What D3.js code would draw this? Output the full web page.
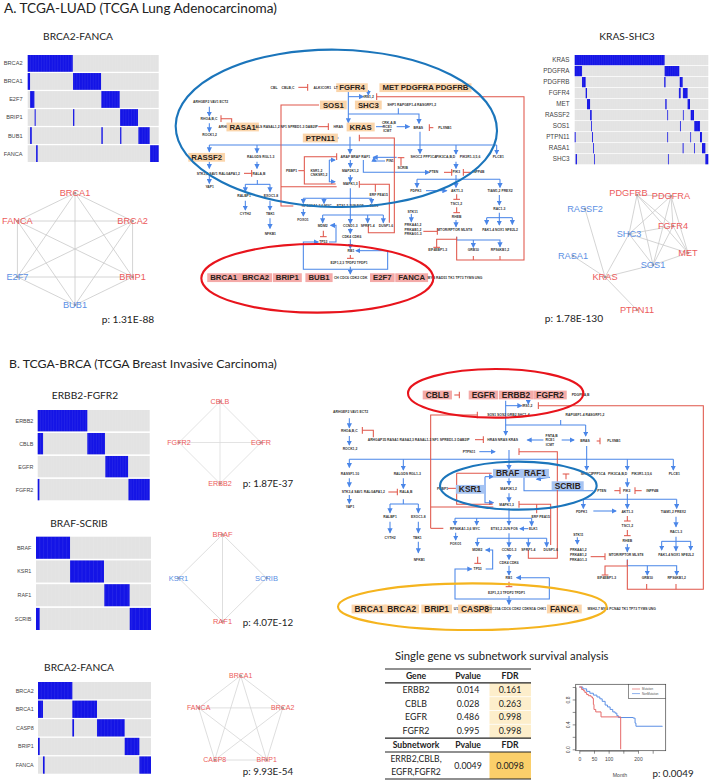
<!DOCTYPE html>
<html>
<head>
<meta charset="utf-8">
<title>Pathway subnetworks</title>
<script src="https://cdnjs.cloudflare.com/ajax/libs/d3/7.8.5/d3.min.js"></script>
<style>
body { margin: 0; background: #fff; }
svg { display: block; }
text { font-family: "Liberation Sans", Arial, sans-serif; }
.cal { font-family: Lato, "Open Sans", sans-serif; fill: #222; }
</style>
</head>
<body>
<svg id="fig" width="712" height="781"></svg>
<script>
// oncoprints: mutated sample ranges per gene, in percent of samples
var luadBrcaGenes = ["BRCA2", "BRCA1", "E2F7", "BRIP1", "BUB1", "FANCA"];
var luadBrcaMut = [
    [[0, 34.4]],
    [[0, 1.8], [34.6, 56]],
    [[1.8, 5.1], [56.2, 70.2]],
    [[5.3, 6.1], [34.6, 35.6], [70.5, 84.2]],
    [[1.8, 3.1], [56.2, 57.3], [70.5, 71.5], [84.5, 93.1]],
    [[6.4, 7.6], [93.4, 100]]
];
var luadKrasGenes = ["KRAS", "PDGFRA", "PDGFRB", "FGFR4", "MET", "RASSF2", "SOS1", "PTPN11", "RASA1", "SHC3"];
var luadKrasMut = [
    [[0, 67.3]],
    [[0, 5.5], [67.3, 78.3]],
    [[5.5, 8.2], [67, 68], [78.6, 80.8]],
    [[8.2, 9.2], [78, 79.3], [81, 84.5]],
    [[9.2, 11.5], [67.8, 68.8], [84.5, 86.3]],
    [[11.5, 12.7], [69.3, 69.8], [81, 81.5], [86.8, 89.3]],
    [[12.2, 12.7], [78.8, 79.3], [89.5, 93.8]],
    [[0, 0.7], [13, 13.7], [69.3, 69.8], [86.5, 87], [93.8, 95.3]],
    [[13.7, 14.2], [80.8, 81.5], [89.3, 89.8], [95.3, 97.8]],
    [[0.7, 1.7], [14.5, 15], [69.8, 70.3], [97.8, 100]]
];
var brcaErbbGenes = ["ERBB2", "CBLB", "EGFR", "FGFR2"];
var brcaErbbMut = [[[0, 44.3]], [[0, 4.8], [44.3, 60.1]], [[60.4, 80.7]], [[0, 1.5], [81, 100]]];
var brcaBrafGenes = ["BRAF", "KSR1", "RAF1", "SCRIB"];
var brcaBrafMut = [[[0, 29.6]], [[29.6, 59.1]], [[59.4, 81.4]], [[0, 3.2], [81.5, 100]]];
var brcaFancaGenes = ["BRCA2", "BRCA1", "CASP8", "BRIP1", "FANCA"];
var brcaFancaMut = [
    [[0, 30.4]],
    [[0, 4.4], [30.4, 52.2]],
    [[30.4, 31.9], [52.2, 76.7]],
    [[0, 1.5], [76.7, 89.7]],
    [[4.4, 5.9], [89.7, 100]]
];

// table
var tableGenes = ["ERBB2", "CBLB", "EGFR", "FGFR2"];
var tablePvalues = ["0.014", "0.028", "0.486", "0.995"];
var tableFdr = ["0.161", "0.263", "0.998", "0.998"];

// survival curves: month, surviving fraction
var survMutation = [[0, 1], [8, 0.96], [14, 0.94], [19, 0.91], [25, 0.88], [31, 0.86], [40, 0.84], [45, 0.82], [48, 0.72], [50, 0.64], [56, 0.6], [74, 0.52], [141, 0], [141, 0]];
var survNoMutation = [[0, 1], [12, 0.97], [25, 0.93], [36, 0.9], [48, 0.87], [60, 0.84], [70, 0.81], [78, 0.77], [88, 0.71], [96, 0.68], [105, 0.64], [114, 0.6], [122, 0.58], [128, 0.54], [133, 0.51], [184, 0.5], [190, 0.42], [193, 0.37], [283, 0.365]];

var neutralColor = "#c9c9c9", redText = "#ec5b5b", blueText = "#5b8fe4";
var svg = d3.select("#fig");

svg.append("defs").append("marker")
    .attr("id", "arrow").attr("viewBox", "0 0 6 6").attr("refX", 5).attr("refY", 3)
    .attr("markerWidth", 5.2).attr("markerHeight", 5.2).attr("markerUnits", "userSpaceOnUse").attr("orient", "auto")
    .append("path").attr("d", "M0,0L6,3L0,6Z").attr("fill", "#4a86e8");

function calText(s, x, y, size, anchor, weight) {
    return svg.append("text").attr("class", "cal")
        .attr("x", x).attr("y", y).attr("dy", "0.35em")
        .attr("text-anchor", anchor || "middle")
        .attr("font-weight", weight || 400)
        .attr("font-size", size).text(s);
}

// spec: genes, mut, left, right, top, bottom, labelRight, fontSize, samples
function oncoprint(spec) {
    var g = svg.append("g"),
        x = d3.scaleLinear().domain([0, 100]).range([spec.left, spec.right]),
        y = d3.scaleBand().domain(spec.genes).range([spec.top, spec.bottom]).paddingInner(spec.pad || 0.07),
        rows;

    rows = g.selectAll("g.row").data(spec.genes).enter().append("g").attr("class", "row");
    rows.append("rect")
        .attr("x", x(0)).attr("y", function (d) { return y(d); })
        .attr("width", x(100) - x(0)).attr("height", y.bandwidth())
        .attr("fill", "#e3e3e3");
    rows.selectAll("rect.mut").data(function (d, i) { return spec.mut[i]; })
        .enter().append("rect").attr("class", "mut")
        .attr("x", function (d) { return x(d[0]); })
        .attr("y", function () { return y(d3.select(this.parentNode).datum()); })
        .attr("width", function (d) { return Math.max(x(d[1]) - x(d[0]), 0.8); })
        .attr("height", y.bandwidth())
        .attr("fill", "#1414e6");
    rows.append("text")
        .attr("x", spec.labelRight).attr("y", function (d) { return y(d) + y.bandwidth() / 2; })
        .attr("dy", "0.35em").attr("text-anchor", "end")
        .attr("font-size", spec.fontSize).attr("fill", "#444")
        .text(function (d) { return d; });
    // faint sample columns
    g.selectAll("line.col").data(d3.range(1, spec.samples)).enter().append("line")
        .attr("x1", function (d) { return x(d * 100 / spec.samples); })
        .attr("x2", function (d) { return x(d * 100 / spec.samples); })
        .attr("y1", spec.top).attr("y2", spec.bottom)
        .attr("stroke", "#fff").attr("stroke-opacity", 0.14).attr("stroke-width", 0.5);
}

function allPairs(names) {
    var out = [];
    names.forEach(function (a, i) {
        names.slice(i + 1).forEach(function (b) { out.push([a, b]); });
    });
    return out;
}

// nodes placed round an ellipse, clockwise from the top
function ring(names, cx, cy, rx, ry) {
    var pos = {};
    names.forEach(function (n, i) {
        var a = 2 * Math.PI * i / names.length;
        pos[n] = [cx + rx * Math.sin(a), cy - ry * Math.cos(a)];
    });
    return pos;
}

function network(pos, edges, blue, size, lineColor, labelShift) {
    var g = svg.append("g"), names = Object.keys(pos), shift = labelShift || {};
    g.selectAll("line").data(edges).enter().append("line")
        .attr("x1", function (d) { return pos[d[0]][0]; })
        .attr("y1", function (d) { return pos[d[0]][1]; })
        .attr("x2", function (d) { return pos[d[1]][0]; })
        .attr("y2", function (d) { return pos[d[1]][1]; })
        .attr("stroke", lineColor).attr("stroke-width", 0.8);
    g.selectAll("circle").data(names).enter().append("circle")
        .attr("cx", function (d) { return pos[d][0]; })
        .attr("cy", function (d) { return pos[d][1]; })
        .attr("r", 1.3).attr("fill", "#9a9a9a");
    g.selectAll("text").data(names).enter().append("text")
        .attr("x", function (d) { return pos[d][0] + (shift[d] ? shift[d][0] : 0); })
        .attr("y", function (d) { return pos[d][1] + (shift[d] ? shift[d][1] : 0); })
        .attr("dy", "0.35em").attr("text-anchor", "middle")
        .attr("font-size", size)
        .attr("fill", function (d) { return blue.indexOf(d) >= 0 ? blueText : redText; })
        .text(function (d) { return d; });
}

// pathway diagram, coordinates are in diagram units (3 per page pixel)
function pathway(spec) {
    var g = svg.append("g"),
        sx = d3.scaleLinear().domain([0, 3]).range([spec.ox, spec.ox + 1]),
        sy = d3.scaleLinear().domain([0, 3]).range([spec.oy, spec.oy + 1]),
        line = d3.line().x(function (d) { return sx(d[0]); }).y(function (d) { return sy(d[1]); });

    function points(flat) {
        var pts = [], i;
        for (i = 0; i < flat.length; i += 2) {
            pts.push([flat[i], flat[i + 1]]);
        }
        return pts;
    }

    function drawEdges(list, color, kind) {
        list.forEach(function (flat) {
            var pts = points(flat),
                path = g.append("path").attr("d", line(pts)).attr("fill", "none")
                    .attr("stroke", color).attr("stroke-width", 1.05),
                a,
                b,
                len,
                nx,
                ny;
            if (kind === "arrow") {
                path.attr("marker-end", "url(#arrow)");
            }
            if (kind === "bar") {
                a = pts[pts.length - 2];
                b = pts[pts.length - 1];
                len = Math.sqrt(Math.pow(b[0] - a[0], 2) + Math.pow(b[1] - a[1], 2));
                nx = -(b[1] - a[1]) / len * 10;
                ny = (b[0] - a[0]) / len * 10;
                g.append("path")
                    .attr("d", line([[b[0] - nx, b[1] - ny], [b[0] + nx, b[1] + ny]]))
                    .attr("fill", "none").attr("stroke", color).attr("stroke-width", 1.05);
            }
        });
    }

    drawEdges(spec.arrows, "#4a86e8", "arrow");
    drawEdges(spec.plain, "#4a86e8", "none");
    drawEdges(spec.bars, "#e0564a", "bar");
    drawEdges(spec.redPlain, "#e0564a", "none");

    g.selectAll("text.small").data(spec.small).enter().append("text").attr("class", "small")
        .attr("x", function (d) { return sx(d[1]); })
        .attr("y", function (d) { return sy(d[2]); })
        .attr("dy", "0.35em").attr("text-anchor", "middle")
        .attr("font-size", 3.4).attr("font-weight", 700).attr("fill", "#333")
        .text(function (d) { return d[0]; });

    spec.big.forEach(function (d) {
        var t = g.append("text").attr("x", sx(d[1])).attr("y", sy(d[2]))
                .attr("dy", "0.35em").attr("text-anchor", "middle")
                .attr("font-size", spec.bigSize).attr("font-weight", 700).attr("fill", "#2b1f1a")
                .text(d[0]),
            w = t.node().getComputedTextLength() + 6;
        g.insert("rect", "text.small")
            .attr("x", sx(d[1]) - w / 2).attr("y", sy(d[2]) - 4.4)
            .attr("width", w).attr("height", 8.8)
            .attr("fill", d[3]);
    });

    spec.ellipses.forEach(function (d) {
        g.append("ellipse")
            .attr("cx", sx(d[0])).attr("cy", sy(d[1]))
            .attr("rx", d[2] / 3).attr("ry", d[3] / 3)
            .attr("transform", "rotate(" + d[5] + "," + sx(d[0]) + "," + sy(d[1]) + ")")
            .attr("fill", "none").attr("stroke", d[4]).attr("stroke-width", 2.1);
    });
}

// ---- panel A ----
calText("A. TCGA-LUAD (TCGA Lung Adenocarcinoma)", 4, 8, 13.6, "start");
calText("BRCA2-FANCA", 78, 36, 10.2);
calText("KRAS-SHC3", 627, 36, 10.2);

oncoprint({genes: luadBrcaGenes, mut: luadBrcaMut, left: 27.7, right: 158.7, top: 55, bottom: 162, labelRight: 22.5, fontSize: 5.6, samples: 48});
oncoprint({genes: luadKrasGenes, mut: luadKrasMut, left: 574.7, right: 708.3, top: 55, bottom: 164.3, labelRight: 569.5, fontSize: 6.3, samples: 60});

var hexNames = ["BRCA1", "BRCA2", "BRIP1", "BUB1", "E2F7", "FANCA"];
network(ring(hexNames, 75, 249, 66.5, 56), allPairs(hexNames), ["BUB1", "E2F7"], 9.2, neutralColor);

var krasNet = {
    PDGFRB: [637, 195], PDGFRA: [671, 196], FGFR4: [673, 226], SHC3: [629, 234],
    MET: [688, 253], SOS1: [653, 265], KRAS: [605, 277], RASSF2: [585, 209],
    RASA1: [573, 256], PTPN11: [637, 310]
};
var krasEdges = allPairs(["PDGFRB", "PDGFRA", "FGFR4", "SHC3", "MET", "SOS1"]).concat([
    ["SHC3", "KRAS"], ["SOS1", "KRAS"], ["RASSF2", "KRAS"], ["RASA1", "KRAS"], ["PTPN11", "KRAS"]
]);
network(krasNet, krasEdges, ["RASSF2", "SHC3", "RASA1", "SOS1"], 9.2, neutralColor, {PDGFRB: [-8.5, -2.5]});

calText("p: 1.31E-88", 128, 319, 10.2);
calText("p: 1.78E-130", 574, 318, 10.2);

var orangeBg = "#fbd5ab", salmonBg = "#f4aaa8", blueBg = "#a7c4f2";

pathway({
    ox: 170, oy: 40, bigSize: 7.8,
    ellipses: [[499, 265, 482, 236, "#1b75bb", 1], [442, 715, 348, 103, "#e8141c", 0]],
    big: [
        ["FGFR4", 546, 143, orangeBg], ["MET", 662, 143, orangeBg], ["PDGFRA", 742, 143, orangeBg],
        ["PDGFRB", 846, 143, orangeBg], ["SOS1", 490, 195, orangeBg], ["SHC3", 595, 195, orangeBg],
        ["RASA1", 218, 261, orangeBg], ["KRAS", 572, 261, orangeBg], ["PTPN11", 451, 294, orangeBg],
        ["RASSF2", 110, 352, orangeBg],
        ["BRCA1", 161, 713, salmonBg], ["BRCA2", 257, 713, salmonBg], ["BRIP1", 352, 713, salmonBg],
        ["BUB1", 447, 713, salmonBg], ["E2F7", 637, 713, salmonBg], ["FANCA", 725, 713, salmonBg]
    ],
    small: [
        ["CBL", 312, 142], ["CBLB,C", 354, 142], ["ALK", 441, 142], ["ICOR1", 468, 142], ["LT", 498, 142],
        ["IRS1,2", 596, 169], ["ARHGEF2  VAV1  ECT2", 122, 186], ["RHOA,B,C", 117, 236], ["ROCK1,2", 119, 284],
        ["ARHI", 158, 260], ["ALS RASAL1,2  NF1  SPRED1-3  DAB2IP", 350, 260], ["HRAS", 505, 260],
        ["SHP1  RAPGEF1-4  RASGRF1,2", 725, 195], ["CRK,A,B", 657, 247], ["RCE1", 652, 260], ["ICMT", 652, 272],
        ["BRAS", 745, 263], ["PLXNB1", 825, 263], ["ARAF  BRAF  RAF1", 556, 351], ["PEBP1", 365, 391],
        ["KSR1,2", 439, 391], ["CNKSR1,2", 447, 405], ["MAP2K1,2", 541, 392], ["MAPK1,3", 541, 432],
        ["PIN1", 660, 362], ["SCRIB", 698, 384], ["SHOC2", 739, 351], ["PPP1CA", 780, 351],
        ["PIK3CA,B,D", 827, 351], ["PIK3R1-3,5,6", 900, 351], ["PLCE1", 985, 351], ["PTEN", 791, 396],
        ["PIK3", 859, 396], ["INPP4B", 925, 396], ["RALGDS RGL1-3", 272, 351],
        ["STK3,4  SAV1  RALGAPA1,2", 145, 400], ["RALA,B", 267, 400], ["YAP1", 119, 441],
        ["RALBP1", 222, 466], ["EXOC1-8", 303, 466], ["CYTH2", 226, 522], ["TBK1", 301, 522], ["NFKB1", 301, 580],
        ["ERF PEA15", 626, 465], ["PDPK1", 738, 453], ["AKT1-3", 861, 453], ["TIAM1,2  PREX2", 990, 453],
        ["TSC1,2", 859, 491], ["RHEB", 860, 531], ["RAC1-3", 988, 507], ["STK11", 728, 514],
        ["PRKAA1,2", 729, 555], ["PRKAB1,2", 729, 568], ["PRKAG1-3", 729, 581],
        ["MTOR/RPTOR MLST8", 854, 568], ["PAK1-4 NOX1 NFE2L2", 990, 568],
        ["EIF4EBP1-3", 803, 630], ["GRB10", 910, 630], ["RPS6KB1,2", 990, 630],
        ["RPS6KA1-3,6  MYC", 440, 498], ["ETS1,2 JUN FOS", 541, 498], ["ELK1", 612, 498], ["FOXO1", 399, 538],
        ["MDM2", 458, 556], ["CCND1-3", 541, 556], ["SFRP1-4", 593, 556], ["DUSP1-6", 648, 556],
        ["CDK4 CDK6", 545, 589], ["TP53", 460, 606], ["RB1", 543, 631], ["E2F1,2,3  TFDP2  TFDP1", 537, 669],
        ["CH  CDC6  CDK2  CDK", 542, 712], ["MYB  RAD51  TK1  TP73  TYMS  UNG", 855, 712]
    ],
    arrows: [
        [535, 170, 580, 170], [595, 150, 595, 165], [535, 155, 535, 248], [535, 222, 747, 222, 747, 250],
        [118, 200, 118, 228], [118, 250, 118, 275], [680, 260, 718, 260], [750, 275, 750, 340],
        [540, 290, 540, 340], [495, 294, 505, 294], [118, 315, 118, 335], [261, 315, 261, 338],
        [858, 315, 858, 342], [980, 315, 980, 342], [118, 365, 118, 385], [118, 405, 118, 430],
        [261, 365, 261, 385], [226, 433, 226, 455], [300, 433, 300, 455], [226, 482, 226, 510],
        [300, 482, 300, 510], [300, 535, 300, 565], [541, 360, 541, 382], [541, 405, 541, 425],
        [541, 445, 541, 550], [400, 475, 400, 490], [605, 475, 605, 490], [462, 475, 462, 490],
        [400, 507, 400, 528], [680, 352, 610, 352], [645, 363, 612, 363, 612, 352], [580, 360, 580, 397, 778, 397],
        [478, 360, 495, 360], [478, 360, 478, 425, 495, 425], [741, 418, 741, 442], [990, 418, 990, 442],
        [858, 405, 858, 442], [768, 452, 830, 452], [988, 465, 988, 495], [950, 533, 950, 553],
        [1027, 533, 1027, 553], [988, 518, 988, 555], [724, 522, 724, 545], [858, 365, 858, 385],
        [858, 540, 858, 560], [458, 525, 458, 548], [640, 525, 640, 548], [593, 525, 593, 548],
        [541, 565, 541, 580], [541, 598, 541, 625], [477, 606, 498, 606, 498, 556, 482, 556],
        [653, 632, 558, 632], [653, 632, 653, 688, 400, 688, 400, 606, 445, 606], [541, 680, 541, 702],
        [860, 600, 990, 600, 990, 620], [910, 600, 910, 622]
    ],
    plain: [
        [685, 205, 685, 222], [618, 260, 640, 260], [118, 315, 980, 315], [262, 420, 262, 433],
        [226, 433, 300, 433], [400, 475, 605, 475], [741, 418, 990, 418], [950, 533, 1027, 533],
        [458, 525, 640, 525], [860, 590, 860, 600]
    ],
    bars: [
        [385, 142, 413, 142], [185, 248, 185, 236, 153, 236], [445, 260, 475, 260], [790, 263, 778, 263],
        [860, 590, 860, 660, 1062, 660, 1062, 170, 620, 170], [403, 392, 403, 350, 500, 350],
        [595, 556, 595, 578, 673, 578, 673, 294, 568, 294], [658, 548, 658, 433, 568, 433], [693, 377, 693, 353],
        [822, 397, 845, 397], [905, 397, 880, 397], [860, 463, 860, 478], [860, 502, 860, 518],
        [460, 572, 460, 590], [760, 574, 802, 574], [860, 598, 800, 598, 800, 622], [541, 645, 541, 655],
        [222, 400, 245, 400]
    ],
    redPlain: [
        [910, 660, 910, 648], [990, 660, 990, 648], [447, 195, 333, 195, 333, 498, 370, 498],
        [333, 440, 500, 440], [385, 392, 403, 392], [403, 392, 403, 432, 497, 432], [616, 433, 616, 455]
    ]
});

// ---- panel B ----
calText("B. TCGA-BRCA (TCGA Breast Invasive Carcinoma)", 9, 364, 12.3, "start");
calText("ERBB2-FGFR2", 85, 395, 10.2);
calText("BRAF-SCRIB", 79, 523, 10.2);
calText("BRCA2-FANCA", 79, 667, 10.2);

oncoprint({genes: brcaErbbGenes, mut: brcaErbbMut, left: 37.7, right: 149.7, top: 410, bottom: 500.3, labelRight: 33.3, fontSize: 5.4, samples: 42});
oncoprint({genes: brcaBrafGenes, mut: brcaBrafMut, left: 36, right: 151, top: 536.7, bottom: 630, labelRight: 31.3, fontSize: 5.4, samples: 30});
oncoprint({genes: brcaFancaGenes, mut: brcaFancaMut, left: 38, right: 151, top: 682, bottom: 773.7, labelRight: 33.7, fontSize: 5.4, samples: 34});

var erbbNames = ["CBLB", "EGFR", "ERBB2", "FGFR2"];
network(ring(erbbNames, 220, 442.5, 41, 41), allPairs(erbbNames), [], 7.2, "#dcdcdc");
var brafNames = ["BRAF", "SCRIB", "RAF1", "KSR1"];
network(ring(brafNames, 222.5, 578, 44, 43.5),
    [["BRAF", "SCRIB"], ["SCRIB", "RAF1"], ["RAF1", "KSR1"], ["KSR1", "BRAF"], ["BRAF", "RAF1"]],
    ["SCRIB", "KSR1"], 7.5, "#d6d6d6");
var pentNames = ["BRCA1", "BRCA2", "BRIP1", "CASP8", "FANCA"];
network(ring(pentNames, 240.7, 722.3, 44.2, 46.6), allPairs(pentNames), [], 7, "#d6d6d6");

calText("p: 1.87E-37", 268, 484, 9.8);
calText("p: 4.07E-12", 268, 623, 9.8);
calText("p: 9.93E-54", 268, 772, 9.8);

pathway({
    ox: 320, oy: 360, bigSize: 8.4,
    ellipses: [[527, 100, 263, 73, "#e8141c", 0], [595, 377, 235, 72, "#1b75bb", 0], [457, 740, 403, 70, "#f5b41e", 0]],
    big: [
        ["CBLB", 352, 105, salmonBg], ["EGFR", 490, 105, salmonBg], ["ERBB2", 588, 105, salmonBg], ["FGFR2", 690, 105, salmonBg],
        ["BRAF", 563, 340, blueBg], ["RAF1", 645, 340, blueBg], ["KSR1", 450, 388, blueBg], ["SCRIB", 743, 377, blueBg],
        ["BRCA1", 147, 747, orangeBg], ["BRCA2", 245, 747, orangeBg], ["BRIP1", 350, 747, orangeBg],
        ["CASP8", 465, 747, orangeBg], ["FANCA", 733, 747, orangeBg]
    ],
    small: [
        ["PDGFRA,B", 782, 105], ["IRS1,2", 622, 137], ["ARHGEF2  VAV1  ECT2", 92, 156], ["RHOA,B,C", 88, 211], ["ROCK1,2", 90, 265],
        ["ARHGAP35 RASA1  RASA2,3 RASAL1-3  NF1  SPRED1-3  DAB2IP", 296, 239], ["HRAS  NRAS  KRAS", 548, 239],
        ["FNTA,B", 695, 226], ["RCE1", 690, 240], ["ICMT", 690, 253], ["BRAS", 795, 241], ["PLXNB1", 882, 243],
        ["SOS1  SOS2  GRB2  SHC1-4", 565, 165], ["RAPGEF1-4  RASGRF1,2", 795, 165], ["PTPN11", 447, 275],
        ["RASSF1-10", 90, 340], ["RALGDS RGL1-3", 262, 340], ["STK3,4  SAV1  RALGAPA1,2", 130, 396], ["RALA,B", 258, 396],
        ["YAP1", 90, 441], ["RALBP1", 210, 469], ["EXOC1-8", 295, 469], ["CYTH2", 210, 533], ["TBK1", 292, 533], ["NFKB1", 298, 598],
        ["PEBP1", 368, 385], ["MAP2K1,2", 566, 385], ["MAPK1,3", 560, 433], ["ERF PEA15", 662, 469], ["SHOC2", 800, 340],
        ["PPP1CA", 836, 340], ["PIK3CA,B,D", 893, 340], ["PIK3R1-3,5,6", 965, 340], ["PLCE1", 1063, 340], ["PTEN", 845, 392],
        ["PIK3", 920, 392], ["INPP4B", 997, 392], ["PDPK1", 785, 456], ["AKT1-3", 922, 456], ["TIAM1,2  PREX2", 1060, 456],
        ["TSC1,2", 922, 496], ["RHEB", 922, 543], ["RAC1-3", 1068, 516], ["STK11", 775, 524], ["PRKAA1,2", 775, 570],
        ["PRKAB1,2", 775, 583], ["PRKAG1-3", 775, 598], ["MTOR/RPTOR MLST8", 918, 585], ["PAK1-4 NOX1 NFE2L2", 1068, 585],
        ["EIF4EBP1-3", 860, 653], ["GRB10", 982, 653], ["RPS6KB1,2", 1070, 653], ["RPS6KA1-3,6  MYC", 435, 506],
        ["ETS1,2 JUN FOS", 553, 506], ["ELK1", 640, 506], ["FOXO1", 407, 552], ["MDM2", 472, 570], ["CCND1-3", 567, 570],
        ["SFRP1-4", 625, 570], ["DUSP1-6", 692, 570], ["CDK4 CDK6", 567, 607], ["TP53", 473, 626], ["RB1", 567, 653],
        ["E2F1,2,3  TFDP2  TFDP1", 560, 698], ["U1", 408, 747], ["CDC25A CDC6 CDK2 CDKN1A CHK1", 590, 747],
        ["MSH2-7  MYB  PCNA2  TK1  TP73  TYMS  UNG", 905, 747]
    ],
    arrows: [
        [557, 122, 557, 225], [557, 137, 605, 137], [625, 122, 625, 132], [797, 195, 797, 228], [88, 175, 88, 203], [88, 228, 88, 255],
        [670, 240, 622, 240], [725, 240, 762, 240], [478, 275, 525, 275], [567, 270, 567, 328], [800, 258, 800, 330],
        [88, 298, 88, 322], [1060, 298, 1060, 330], [250, 298, 250, 330], [922, 298, 922, 330], [88, 355, 88, 380],
        [88, 405, 88, 430], [250, 355, 250, 385], [210, 432, 210, 458], [295, 432, 295, 458], [210, 485, 210, 518],
        [295, 485, 295, 518], [295, 545, 295, 578], [567, 400, 567, 425], [567, 355, 567, 375], [567, 445, 567, 495],
        [405, 475, 405, 495], [635, 475, 635, 497], [470, 475, 470, 495], [625, 506, 600, 506], [407, 518, 407, 540],
        [495, 350, 520, 350], [495, 350, 495, 428, 520, 428], [690, 352, 650, 358], [790, 418, 790, 445], [1070, 418, 1070, 445],
        [922, 355, 922, 380], [922, 402, 922, 445], [820, 453, 888, 453], [1068, 470, 1068, 500], [1025, 544, 1025, 570],
        [1112, 544, 1112, 570], [1068, 530, 1068, 572], [772, 532, 772, 552], [922, 552, 922, 575], [472, 535, 472, 558],
        [680, 535, 680, 560], [625, 535, 625, 560], [567, 520, 567, 560], [567, 582, 567, 598], [567, 617, 567, 645],
        [497, 627, 518, 627, 518, 570, 497, 570], [688, 653, 590, 653], [688, 653, 688, 717, 405, 717, 405, 627, 455, 627],
        [567, 708, 567, 733], [922, 617, 1070, 617, 1070, 645], [982, 617, 982, 645]
    ],
    plain: [
        [557, 195, 797, 195], [722, 180, 722, 195], [88, 298, 1060, 298], [250, 418, 250, 432], [210, 432, 295, 432],
        [405, 475, 635, 475], [612, 350, 612, 392, 820, 392], [790, 418, 1070, 418], [1025, 544, 1112, 544],
        [472, 535, 680, 535], [922, 598, 922, 617]
    ],
    bars: [
        [403, 105, 418, 105], [160, 232, 160, 211, 127, 211], [465, 239, 490, 239], [830, 243, 840, 243],
        [922, 600, 922, 688, 1150, 688, 1150, 137, 655, 137], [625, 570, 625, 595, 712, 595, 712, 275, 597, 275],
        [692, 555, 692, 433, 597, 433], [738, 358, 738, 342], [883, 392, 900, 392], [965, 392, 945, 392],
        [922, 468, 922, 483], [922, 510, 922, 527], [473, 590, 473, 610], [812, 590, 855, 590],
        [922, 618, 855, 618, 855, 645], [567, 665, 567, 680], [205, 396, 232, 396], [332, 505, 332, 165, 472, 165]
    ],
    redPlain: [
        [980, 688, 980, 672], [1068, 688, 1068, 672], [332, 505, 370, 505], [332, 441, 520, 441], [383, 385, 410, 385],
        [410, 340, 410, 433, 518, 433], [410, 340, 515, 340], [650, 433, 650, 460]
    ]
});

// ---- table ----
calText("Single gene vs subnetwork survival analysis", 395, 656, 11.3, "start");

var tableTop = 669,
    colEdges = [385, 447, 489, 531],
    rowY = d3.scaleBand().domain(d3.range(6)).range([tableTop, 752]),
    colMid = function (i) { return (colEdges[i] + colEdges[i + 1]) / 2; };

svg.append("rect").attr("x", colEdges[2] + 0.5).attr("y", rowY(1))
    .attr("width", colEdges[3] - colEdges[2] - 0.5).attr("height", rowY.step() * 4).attr("fill", "#fdeecb");
svg.append("rect").attr("x", colEdges[2] + 0.5).attr("y", 752)
    .attr("width", colEdges[3] - colEdges[2] - 0.5).attr("height", 27).attr("fill", "#fbcf6a");

calText("Gene", colMid(0), rowY(0) + rowY.step() / 2, 8.6, "middle", 700);
calText("Pvalue", colMid(1), rowY(0) + rowY.step() / 2, 8.6, "middle", 700);
calText("FDR", colMid(2), rowY(0) + rowY.step() / 2, 8.6, "middle", 700);
tableGenes.forEach(function (g, i) {
    var yy = rowY(i + 1) + rowY.step() / 2;
    calText(g, colMid(0), yy, 8.8);
    calText(tablePvalues[i], colMid(1), yy, 8.8);
    calText(tableFdr[i], colMid(2), yy, 8.8);
});
calText("Subnetwork", colMid(0), rowY(5) + rowY.step() / 2, 8.6, "middle", 700);
calText("Pvalue", colMid(1), rowY(5) + rowY.step() / 2, 8.6, "middle", 700);
calText("FDR", colMid(2), rowY(5) + rowY.step() / 2, 8.6, "middle", 700);
calText("ERRB2,CBLB,", colMid(0), 759, 8.6);
calText("EGFR,FGFR2", colMid(0), 772, 8.6);
calText("0.0049", colMid(1), 765.5, 8.8);
calText("0.0098", colMid(2), 765.5, 8.8);

[tableTop, rowY(1), rowY(5), 752, 779].forEach(function (y) {
    svg.append("line").attr("x1", colEdges[0]).attr("x2", colEdges[3]).attr("y1", y).attr("y2", y)
        .attr("stroke", "#222").attr("stroke-width", 1.1);
});
[rowY(2), rowY(3), rowY(4)].forEach(function (y) {
    svg.append("line").attr("x1", colEdges[0]).attr("x2", colEdges[3]).attr("y1", y).attr("y2", y)
        .attr("stroke", "#fff").attr("stroke-width", 0.8);
});

// ---- survival plot ----
var sxScale = d3.scaleLinear().domain([0, 200]).range([579.3, 638]),
    syScale = d3.scaleLinear().domain([0, 1]).range([749.3, 687]),
    stepLine = d3.line()
        .x(function (d) { return sxScale(d[0]); })
        .y(function (d) { return syScale(d[1]); })
        .curve(d3.curveStepAfter),
    survG = svg.append("g");

survG.append("rect").attr("x", 575.7).attr("y", 684.3).attr("width", 90).attr("height", 66.4)
    .attr("fill", "none").attr("stroke", "#444").attr("stroke-width", 0.7);
survG.append("path").datum(survNoMutation).attr("d", stepLine).attr("fill", "none").attr("stroke", "#5b8fe4").attr("stroke-width", 1);
survG.append("path").datum(survMutation).attr("d", stepLine).attr("fill", "none").attr("stroke", "#e66a6a").attr("stroke-width", 1);

survG.append("g").attr("transform", "translate(0,750.7)")
    .call(d3.axisBottom(sxScale).tickValues([0, 50, 100, 150, 200, 250]).tickSize(3).tickSizeOuter(0)
        .tickFormat(function (d) { return d === 150 || d === 250 ? "" : d; }))
    .call(function (a) {
        a.selectAll("text").attr("font-size", 5).attr("font-family", "Liberation Sans").attr("fill", "#444").attr("y", 7);
        a.selectAll("line,path").attr("stroke", "#444").attr("stroke-width", 0.6);
    });
survG.append("g").attr("transform", "translate(575.7,0)")
    .call(d3.axisLeft(syScale).tickValues([0, 0.2, 0.4, 0.6, 0.8, 1]).tickSize(3).tickSizeOuter(0)
        .tickFormat(function (d) { return d === 0 || d === 0.4 || d === 0.8 ? d.toFixed(1) : ""; }))
    .call(function (a) {
        a.selectAll("text").attr("font-size", 5).attr("font-family", "Liberation Sans").attr("fill", "#444")
            .attr("text-anchor", "middle").attr("dy", 0).attr("x", -6).attr("y", 0)
            .attr("transform", "rotate(-90,-6,0)");
        a.selectAll("line,path").attr("stroke", "#444").attr("stroke-width", 0.6);
    });

survG.append("rect").attr("x", 628.3).attr("y", 684.3).attr("width", 37.4).attr("height", 14)
    .attr("fill", "#fff").attr("stroke", "#444").attr("stroke-width", 0.6);
[["Mutation", "#e66a6a", 689], ["NonMutation", "#5b8fe4", 693.6]].forEach(function (d) {
    survG.append("line").attr("x1", 632).attr("x2", 640).attr("y1", d[2]).attr("y2", d[2]).attr("stroke", d[1]).attr("stroke-width", 0.7);
    survG.append("text").attr("x", 642).attr("y", d[2]).attr("dy", "0.35em").attr("font-size", 2.9).attr("fill", "#555").text(d[0]);
});
survG.append("text").attr("x", 620).attr("y", 777).attr("text-anchor", "middle").attr("font-size", 5.2).attr("fill", "#444").text("Month");
calText("p: 0.0049", 673, 774, 9.8);
</script>
</body>
</html>
